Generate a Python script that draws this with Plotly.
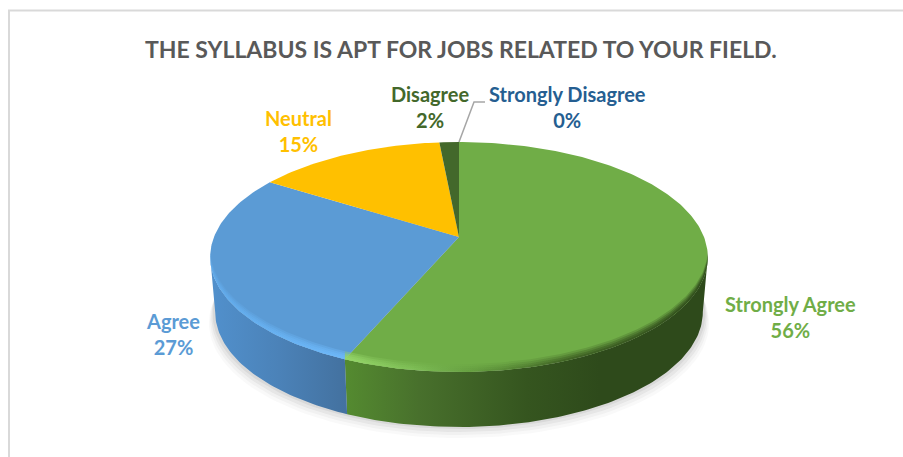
import math
import plotly.graph_objects as go

categories = ["Strongly Agree", "Agree", "Neutral", "Disagree", "Strongly Disagree"]
shares = [56.4, 27.6, 14.5, 1.5, 0.0]
percent_labels = ["56%", "27%", "15%", "2%", "0%"]
slice_colors = ["#70AD47", "#5B9BD5", "#FFC000", "#43682B", "#255E91"]
label_colors = ["#70AD47", "#5B9BD5", "#FFC000", "#43682B", "#255E91"]
title_text = "THE SYLLABUS IS APT FOR JOBS RELATED TO YOUR FIELD."

# Perspective camera of the tilted pie (pixels of the 903x457 page)
CX, CY, A, B, K = 459.0, 237.0, 245.0, 111.5, 0.174
DEPTH, BOTTOM_SCALE = 55.0, 0.98
FONT = "Lato, Carlito, Calibri, sans-serif"


def rim(theta_deg):
    t = math.radians(theta_deg)
    u, v = math.sin(t), math.cos(t)
    w = 1 + K * v
    return CX + A * u / w, CY - B * v / w


def arc(a, b, step=1.0):
    n = max(2, int(abs(b - a) / step) + 1)
    return [a + (b - a) * i / (n - 1) for i in range(n)]


def bottom(p, dy=DEPTH, s=BOTTOM_SCALE):
    return CX + (p[0] - CX) * s, p[1] + dy


fig = go.Figure()


def poly(pts, color=None, gradient=None):
    xs = [p[0] for p in pts] + [pts[0][0]]
    ys = [p[1] for p in pts] + [pts[0][1]]
    kw = dict(fillgradient=gradient) if gradient else dict(fillcolor=color)
    fig.add_trace(go.Scatter(x=xs, y=ys, mode="lines", fill="toself",
                             line=dict(width=0), hoverinfo="skip", **kw))


# soft ground shadow
whole = [rim(t) for t in arc(0, 360, 2)]
for dy, s, a in [(66, 1.005, 0.035), (63, 1.0, 0.05), (60, 0.995, 0.07), (57, 0.99, 0.09)]:
    poly([bottom(p, dy, s) for p in whole], color=f"rgba(90,90,90,{a})")

# slice boundaries
edges = [0.0]
for v in shares:
    edges.append(edges[-1] + v * 360.0 / sum(shares))

# side wall: the silhouette of the rim turns at cos(theta) = -K
R_START = math.degrees(math.acos(-K))
L_END = 360.0 - R_START
green_end, blue_end = edges[1], min(edges[2], L_END)


def wall(a, b, grad):
    top = [rim(t) for t in arc(a, b)]
    poly(top + [bottom(p) for p in reversed(top)], gradient=grad)


wall(R_START, green_end, dict(type="horizontal", start=347, stop=708, colorscale=[
    [0, "#548a30"], [0.2, "#48702c"], [0.5, "#35551f"], [0.7, "#2e4a1b"], [1, "#2e4a1b"]]))
wall(green_end, blue_end, dict(type="horizontal", start=212, stop=347, colorscale=[
    [0, "#5190cc"], [0.5, "#4b82b8"], [1, "#43719f"]]))

# top face
for i, color in enumerate(slice_colors):
    a, b = edges[i], edges[i + 1]
    if b - a <= 0:
        continue
    poly([(CX, CY)] + [rim(t) for t in arc(a, b)], color=color)


def bevel(a, b, h, grad):
    lo = [rim(t) for t in arc(a, b)]
    hi = [(p[0], p[1] - h) for p in reversed(lo)]
    poly(lo + hi, gradient=grad)


# bevel shading along the near rim of the top face
for h, al in [(8, 0.2), (6, 0.28), (4, 0.36), (2, 0.45)]:
    bevel(R_START, green_end, h, dict(type="horizontal", start=347, stop=708, colorscale=[
        [0, f"rgba(150,215,105,{al + 0.2})"], [0.18, f"rgba(130,195,90,{al})"],
        [0.36, f"rgba(95,150,60,{al * 0.8})"], [0.6, f"rgba(55,85,30,{al})"],
        [1, f"rgba(40,65,22,{al * 1.3})"]]))
    bevel(green_end, blue_end, h, dict(type="horizontal", start=212, stop=347, colorscale=[
        [0, f"rgba(100,175,240,{al})"], [1, f"rgba(110,185,250,{al + 0.2})"]]))

# leader line of the smallest slices
leader = [rim(edges[4]), (474, 102), (485, 102)]
fig.add_trace(go.Scatter(x=[p[0] for p in leader], y=[p[1] for p in leader], mode="lines",
                         line=dict(color="#a6a6a6", width=1.5), hoverinfo="skip"))

label_pos = [(790, 317), (173, 334), (298, 131), (430, 107), (567, 107)]
ann = [dict(x=461, y=49, xref="x", yref="y", text=f"<b>{title_text}</b>", showarrow=False,
            font=dict(family=FONT, size=23, color="#595959"))]
for cat, pct, col, pos in zip(categories, percent_labels, label_colors, label_pos):
    ann.append(dict(x=pos[0], y=pos[1], xref="x", yref="y", text=f"<b>{cat}<br>{pct}</b>",
                    showarrow=False, align="center",
                    font=dict(family=FONT, size=20, color=col)))

frame = dict(type="line", xref="x", yref="y", line=dict(color="#d9d9d9", width=2))
fig.update_layout(
    width=903, height=457, margin=dict(l=0, r=0, t=0, b=0),
    paper_bgcolor="white", plot_bgcolor="white", showlegend=False,
    xaxis=dict(range=[0, 903], visible=False, fixedrange=True),
    yaxis=dict(range=[457, 0], visible=False, fixedrange=True),
    annotations=ann,
    shapes=[dict(frame, x0=9, x1=9, y0=10, y1=457),
            dict(frame, x0=8, x1=903, y0=10.5, y1=10.5)],
)
fig.write_html("out.html", config=dict(displayModeBar=False),
               post_script="document.body.style.margin='0';document.body.style.overflow='hidden';")
